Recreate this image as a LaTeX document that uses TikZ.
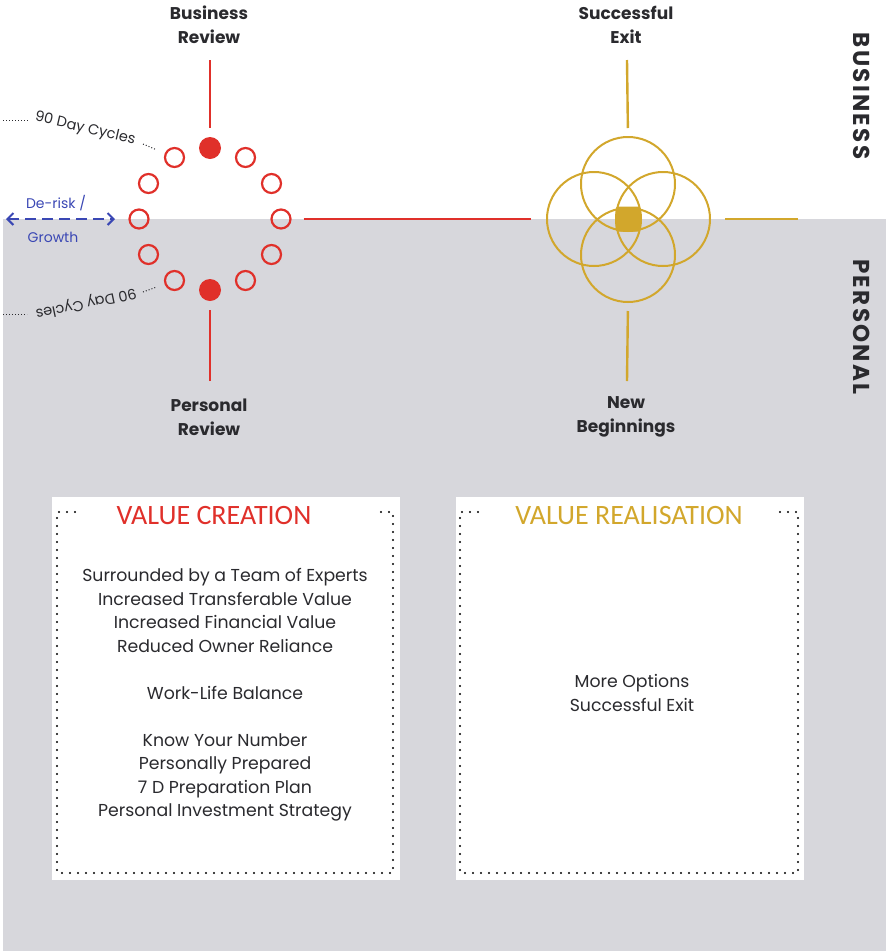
\documentclass[tikz,border=0pt]{standalone}
\usepackage{fontspec}
\setmainfont{Poppins}
\newfontfamily\titlefont{Carlito}
\newfontfamily\sidefont[LetterSpace=10]{Poppins}
\usetikzlibrary{arrows.meta}
\definecolor{bgray}{HTML}{D7D7DC}
\definecolor{cred}{HTML}{E0302A}
\definecolor{cgold}{HTML}{D2A72C}
\definecolor{cblue}{HTML}{3A47B4}
\definecolor{ctext}{HTML}{2A2A2E}
\tikzset{
  lbl/.style={text=ctext, align=center, inner sep=0pt, font=\bfseries\fontsize{17}{24}\selectfont},
  side/.style={text=ctext, inner sep=0pt, font=\sidefont\bfseries\fontsize{23}{23}\selectfont},
  ringdot/.style={circle, draw=cred, line width=2.2pt, minimum size=19pt, inner sep=0pt},
  ringfill/.style={circle, fill=cred, minimum size=22pt, inner sep=0pt},
  redline/.style={draw=cred, line width=2.4pt},
  goldline/.style={draw=cgold, line width=2.4pt},
  petal/.style={draw=cgold, line width=2pt},
  cyc/.style={text=ctext, inner sep=0pt, font=\fontsize{14.5}{14.5}\selectfont},
  dotline/.style={draw=ctext, line width=1pt, dash pattern=on 1pt off 2pt},
  dots/.style={draw=black, line width=2.4pt, line cap=round, dash pattern=on 0pt off 8pt},
  panel/.style={fill=white, inner sep=0pt, minimum width=348pt, minimum height=383pt},
  ptitle/.style={inner sep=0pt, font=\titlefont\fontsize{28}{28}\selectfont},
  body/.style={text=ctext, align=center, inner sep=0pt, font=\fontsize{17.3}{23.5}\selectfont},
}
\begin{document}
\begin{tikzpicture}[x=1pt, y=-1pt]
\useasboundingbox (0,0) rectangle (886,951);
% personal half of the page
\fill[bgray] (3,219) rectangle (886,951);

% ---- review cycle ----
\foreach \i in {0,1,2,4,5,6,7,8,10,11}
  \node[ringdot] (r\i) at ({210+71*cos(30*\i)},{219-71*sin(30*\i)}) {};
\node[ringfill] (r3) at (210,148) {};
\node[ringfill] (r9) at (210,290) {};

\node[lbl] (bizrev) at (209,25) {Business\\Review};
\node[lbl] (persrev) at (209,417) {Personal\\Review};
\coordinate (brend) at (210,60);
\coordinate (prend) at (210,381);
\draw[redline, shorten >=9pt] (brend) -- (r3.north);
\draw[redline, shorten >=9pt] (prend) -- (r9.south);

% ---- exit flower ----
\coordinate (fc) at (628,219);
\draw[petal] (628,184) circle[radius=47];
\draw[petal] (594,219) circle[radius=47];
\draw[petal] (663,219) circle[radius=47];
\draw[petal] (628,255) circle[radius=47];
\node[fill=cgold, rounded corners=3pt, minimum size=25pt, inner sep=0pt] (core) at (fc) {};
\coordinate (fL) at (547,219);
\coordinate (fR) at (710,219);
\coordinate (fT) at (628,137);
\coordinate (fB) at (628,302);

\node[lbl] (exitlbl) at (626,25) {Successful\\Exit};
\node[lbl] (newlbl) at (626,417) {New\\Beginnings};
\coordinate (exend) at (627,60);
\coordinate (nbend) at (627,381);
\coordinate (rtend) at (798,219);
\draw[goldline, shorten >=9pt] (exend) -- (fT);
\draw[goldline, shorten >=9pt] (nbend) -- (fB);
\draw[goldline, shorten <=15pt] (fR) -- (rtend);

% link between the two symbols
\draw[redline, shorten <=12pt, shorten >=16pt] (r0.east) -- (fL);

% ---- side captions ----
\node[side, rotate=-90] (biz) at (862,96) {BUSINESS};
\node[side, rotate=-90] (pers) at (862,327) {PERSONAL};

% ---- 90 day cycles ----
\node[cyc, rotate=-13] (cyc1) at (85,129) {90 Day Cycles};
\node[cyc, rotate=192] (cyc2) at (86,303) {90 Day Cycles};
\coordinate (c1a) at (3,120);
\coordinate (c1b) at (29,120);
\coordinate (c2a) at (3,314);
\coordinate (c2b) at (27,314);
\draw[dotline] (c1a) -- (c1b);
\draw[dotline] (c2a) -- (c2b);
\coordinate (c1c) at (143,144);
\coordinate (c2c) at (143,292);
\draw[dotline, shorten >=9pt] (c1c) -- (r4);
\draw[dotline, shorten >=9pt] (c2c) -- (r8);

% ---- de-risk / growth ----
\coordinate (arL) at (6,219);
\coordinate (arR) at (115,219);
\draw[draw=cblue, line width=2pt, dash pattern=on 11pt off 6pt,
  {Straight Barb[length=6pt,width=12pt,line width=2pt]}-{Straight Barb[length=6pt,width=12pt,line width=2pt]}]
  (arL) -- (arR);
\node[text=cblue, inner sep=0pt, font=\fontsize{14}{14}\selectfont] (derisk) at (56,203) {De-risk /};
\node[text=cblue, inner sep=0pt, font=\fontsize{14}{14}\selectfont] (growth) at (53,237) {Growth};

% ---- value creation panel ----
\node[panel] (vcbox) at (226,688.5) {};
\draw[dots] (75,512) -- (57,512) -- (57,873) -- (393,873) -- (393,512) -- (375,512);
\node[ptitle, text=cred] (vctitle) at (214,516) {VALUE CREATION};
\node[body] (vcbody) at (225,695) {Surrounded by a Team of Experts\\Increased Transferable Value\\Increased Financial Value\\Reduced Owner Reliance\\[23.5pt]Work-Life Balance\\[23.5pt]Know Your Number\\Personally Prepared\\7 D Preparation Plan\\Personal Investment Strategy};

% ---- value realisation panel ----
\node[panel] (vrbox) at (629.5,688.5) {};
\draw[dots] (478,512) -- (460,512) -- (460,873) -- (798,873) -- (798,512) -- (780,512);
\node[ptitle, text=cgold] (vrtitle) at (629,516) {VALUE REALISATION};
\node[body] (vrbody) at (632,693) {More Options\\Successful Exit};
\end{tikzpicture}
\end{document}
